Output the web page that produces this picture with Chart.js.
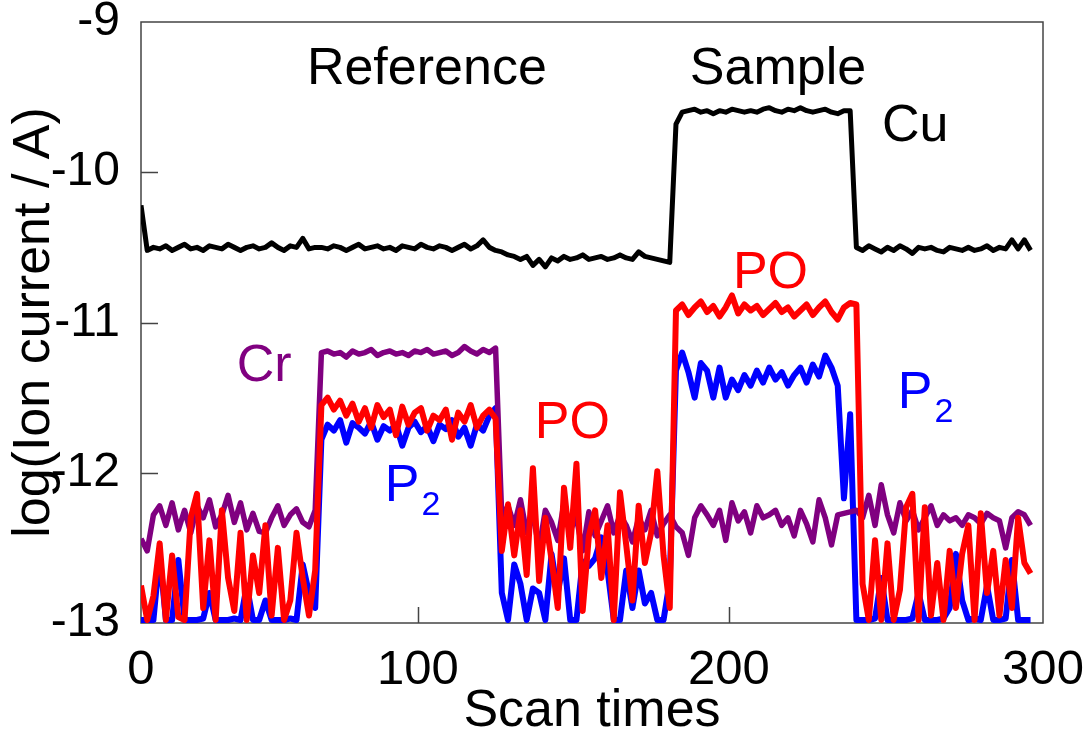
<!DOCTYPE html>
<html>
<head>
<meta charset="utf-8">
<title>Ion current vs scan times</title>
<script src="https://cdn.jsdelivr.net/npm/chart.js@4.4.0/dist/chart.umd.min.js"></script>
<style>
  html, body { margin: 0; padding: 0; background: #fff; }
  canvas { display: block; }
</style>
</head>
<body>
<canvas id="ionChart" width="1092" height="738"></canvas>
<script>
// Scan numbers (every second scan)
const scans = [
    11, 13, 15, 17, 19, 21, 23, 25, 27, 29,
    31, 33, 35, 37, 39, 41, 43, 45, 47, 49,
    51, 53, 55, 57, 59, 61, 63, 65, 67, 69,
    71, 73, 75, 77, 79, 81, 83, 85, 87, 89,
    91, 93, 95, 97, 99, 101, 103, 105, 107, 109,
    111, 113, 115, 117, 119, 121, 123, 125, 127, 129,
    131, 133, 135, 137, 139, 141, 143, 145, 147, 149,
    151, 153, 155, 157, 159, 161, 163, 165, 167, 169,
    171, 173, 175, 177, 179, 181, 183, 185, 187, 189,
    191, 193, 195, 197, 199, 201, 203, 205, 207, 209,
    211, 213, 215, 217, 219, 221, 223, 225, 227, 229,
    231, 233, 235, 237, 239, 241, 243, 245, 247, 249,
    251, 253, 255, 257, 259, 261, 263, 265, 267, 269,
    271, 273, 275, 277, 279, 281, 283, 285, 287, 289,
    291, 293, 295, 297
];

// log(ion current / A) per species
const cu = [
    -10.22, -10.52, -10.50, -10.51, -10.49, -10.52, -10.50, -10.48, -10.51, -10.50, -10.52, -10.49, -10.50, -10.51, -10.48,
    -10.50, -10.52, -10.50, -10.49, -10.51, -10.50, -10.47, -10.50, -10.52, -10.49, -10.50, -10.44, -10.51, -10.50,
    -10.50, -10.51, -10.49, -10.50, -10.52, -10.50, -10.48, -10.51, -10.50, -10.49, -10.51, -10.50, -10.52, -10.49, -10.50,
    -10.51, -10.48, -10.50, -10.51, -10.49, -10.50, -10.52, -10.50, -10.48, -10.51, -10.49, -10.45, -10.50, -10.52,
    -10.53, -10.55, -10.56, -10.58, -10.56, -10.62, -10.58, -10.63, -10.57, -10.59, -10.56, -10.58, -10.57, -10.55,
    -10.58, -10.57, -10.56, -10.58, -10.57, -10.55, -10.57, -10.58, -10.53, -10.56, -10.57, -10.58, -10.59, -10.60,
    -9.68, -9.60, -9.59, -9.58, -9.60, -9.59, -9.61, -9.59, -9.60, -9.58, -9.59, -9.60, -9.59, -9.60, -9.58,
    -9.57, -9.59, -9.60, -9.58, -9.59, -9.57, -9.59, -9.60, -9.59, -9.58, -9.60, -9.61, -9.59, -9.59,
    -10.50, -10.52, -10.49, -10.51, -10.53, -10.50, -10.52, -10.49, -10.51, -10.54, -10.50, -10.51, -10.50, -10.52, -10.53,
    -10.50, -10.51, -10.52, -10.50, -10.52, -10.51, -10.49, -10.52, -10.50, -10.51, -10.45, -10.51, -10.45, -10.52
];

const cr = [
    -12.44, -12.52, -12.28, -12.22, -12.35, -12.20, -12.38, -12.25, -12.40, -12.22, -12.30, -12.18, -12.36, -12.28, -12.15,
    -12.33, -12.20, -12.38, -12.27, -12.39, -12.40, -12.30, -12.22, -12.35, -12.28, -12.24, -12.33, -12.36, -12.25,
    -11.20, -11.19, -11.21, -11.20, -11.23, -11.19, -11.21, -11.20, -11.18, -11.22, -11.20, -11.19, -11.21, -11.20, -11.22,
    -11.19, -11.20, -11.18, -11.21, -11.20, -11.19, -11.22, -11.20, -11.16, -11.19, -11.21, -11.18, -11.20, -11.17,
    -12.30, -12.22, -12.35, -12.18, -12.40, -12.28, -12.50, -12.25, -12.33, -12.45, -12.20, -12.38, -12.30, -12.52,
    -12.26, -12.42, -12.32, -12.22, -12.40, -12.28, -12.35, -12.46, -12.30, -12.38, -12.25, -12.42, -12.34, -12.28,
    -12.36, -12.40, -12.55, -12.30, -12.22, -12.28, -12.35, -12.25, -12.45, -12.20, -12.32, -12.26, -12.40, -12.22, -12.30,
    -12.28, -12.25, -12.35, -12.30, -12.42, -12.25, -12.34, -12.46, -12.18, -12.30, -12.48, -12.28, -12.27, -12.26,
    -12.25, -12.30, -12.15, -12.35, -12.08, -12.28, -12.40, -12.20, -12.32, -12.25, -12.38, -12.30, -12.22, -12.35, -12.28,
    -12.32, -12.30, -12.35, -12.28, -12.30, -12.34, -12.27, -12.30, -12.32, -12.50, -12.30, -12.26, -12.28, -12.35
];

const po = [
    -12.75, -12.98, -12.82, -12.47, -12.98, -12.55, -12.96, -12.98, -12.30, -12.14, -12.90, -12.45, -12.98, -12.25, -12.70,
    -12.92, -12.40, -12.98, -12.55, -12.80, -12.35, -12.95, -12.50, -12.98, -12.85, -12.40, -12.70, -12.95, -12.65,
    -11.55, -11.50, -11.58, -11.52, -11.62, -11.54, -11.66, -11.57, -11.70, -11.55, -11.63, -11.58, -11.75, -11.56, -11.68,
    -11.60, -11.57, -11.72, -11.62, -11.65, -11.58, -11.78, -11.60, -11.66, -11.55, -11.70, -11.62, -11.58, -11.64,
    -12.52, -12.21, -12.55, -12.25, -12.68, -11.97, -12.72, -12.30, -12.58, -12.90, -12.10, -12.50, -11.94, -12.92,
    -12.42, -12.25, -12.70, -12.35, -12.98, -12.13, -12.48, -12.85, -12.22, -12.60, -12.40, -11.99, -12.55, -12.90,
    -10.92, -10.88, -10.95, -10.90, -10.86, -10.93, -10.89, -10.96, -10.90, -10.82, -10.94, -10.88, -10.92, -10.89, -10.95,
    -10.91, -10.87, -10.93, -10.90, -10.96, -10.92, -10.88, -10.95, -10.90, -10.86, -10.93, -10.98, -10.90, -10.87,
    -10.88, -12.74, -12.98, -12.45, -12.98, -12.47, -12.98, -12.78, -12.23, -12.14, -12.98, -12.23, -12.95, -12.60, -12.98,
    -12.52, -12.90, -12.54, -12.35, -12.98, -12.27, -12.80, -12.52, -12.95, -12.58, -12.90, -12.30, -12.60, -12.67
];

const p2 = [
    -12.98, -12.98, -12.98, -12.54, -12.98, -12.98, -12.58, -12.98, -12.98, -12.98, -12.97, -12.80, -12.98, -12.98, -12.98,
    -12.97, -12.98, -12.75, -12.98, -12.98, -12.85, -12.98, -12.98, -12.98, -12.97, -12.98, -12.61, -12.80, -12.90,
    -11.78, -11.68, -11.72, -11.65, -11.80, -11.67, -11.70, -11.74, -11.66, -11.78, -11.69, -11.72, -11.68, -11.82, -11.70,
    -11.66, -11.73, -11.69, -11.79, -11.68, -11.71, -11.65, -11.76, -11.70, -11.82, -11.68, -11.72, -11.62, -11.57,
    -12.80, -12.98, -12.61, -12.74, -12.98, -12.77, -12.80, -12.98, -12.54, -12.80, -12.57, -12.98, -12.98, -12.59,
    -12.62, -12.57, -12.43, -12.65, -12.98, -12.98, -12.65, -12.90, -12.65, -12.87, -12.80, -12.98, -12.98, -12.72,
    -11.32, -11.20, -11.33, -11.50, -11.27, -11.32, -11.50, -11.30, -11.50, -11.38, -11.45, -11.35, -11.42, -11.32, -11.40,
    -11.30, -11.38, -11.33, -11.42, -11.35, -11.30, -11.40, -11.28, -11.36, -11.22, -11.30, -11.42, -12.17, -11.61,
    -12.98, -12.98, -12.98, -12.97, -12.70, -12.98, -12.98, -12.98, -12.98, -12.97, -12.80, -12.98, -12.98, -12.98, -12.97,
    -12.90, -12.54, -12.85, -12.98, -12.97, -12.98, -12.75, -12.98, -12.98, -12.97, -12.58, -12.98, -12.98, -12.98
];

// Axis ticks as printed on the figure
const xTickValues = [11, 100, 200, 301];
const xTickLabels = ['0', '100', '200', '300'];
const yTickValues = [-13, -12, -11, -10, -9];

// Text labels placed in data coordinates
const noteTexts = ['Reference', 'Sample', 'Cu', 'PO', 'Cr', 'PO', 'P', 'P'];
const noteX = [102.9, 215.8, 249.2, 201.3, 41.8, 137.6, 89.4, 254.3];
const noteY = [-9.41, -9.41, -9.79, -10.77, -11.39, -11.77, -12.19, -11.57];
const noteSub = ['', '', '', '', '', '', '2', '2'];

const FONT = "'Liberation Sans', Arial, Helvetica, sans-serif";
const toPoints = (values) => scans.map((x, i) => ({ x, y: values[i] }));

// Frame box and inward tick marks
const framePlugin = {
    id: 'frame',
    beforeDatasetsDraw(chart) {
        const { ctx, chartArea: a, scales: { x, y } } = chart;
        ctx.save();
        ctx.strokeStyle = '#444';
        ctx.lineWidth = 1.5;
        ctx.beginPath();
        xTickValues.forEach(v => {
            if (v <= x.min || v >= x.max) return;
            const px = Math.round(x.getPixelForValue(v)) + 0.5;
            ctx.moveTo(px, a.bottom);
            ctx.lineTo(px, a.bottom - 16);
        });
        yTickValues.forEach(v => {
            if (v <= y.min || v >= y.max) return;
            const py = Math.round(y.getPixelForValue(v)) + 0.5;
            ctx.moveTo(a.left, py);
            ctx.lineTo(a.left + 17, py);
        });
        ctx.stroke();
        ctx.strokeRect(a.left, a.top, a.right - a.left, a.bottom - a.top);
        ctx.restore();
    }
};

// Species / region labels
const notesPlugin = {
    id: 'notes',
    afterDatasetsDraw(chart) {
        const { ctx, scales: { x, y } } = chart;
        const colors = ['#000', '#000', '#000', '#ff0000', '#800080', '#ff0000', '#0000ff', '#0000ff'];
        const aligns = ['center', 'center', 'left', 'left', 'left', 'left', 'left', 'left'];
        ctx.save();
        ctx.textBaseline = 'alphabetic';
        noteTexts.forEach((text, i) => {
            const px = x.getPixelForValue(noteX[i]);
            const py = y.getPixelForValue(noteY[i]);
            ctx.fillStyle = colors[i];
            ctx.textAlign = aligns[i];
            ctx.font = `52px ${FONT}`;
            ctx.fillText(text, px, py);
            if (noteSub[i]) {
                const w = ctx.measureText(text).width;
                ctx.font = `34px ${FONT}`;
                ctx.textAlign = 'left';
                ctx.fillText(noteSub[i], px + w + 2, py + 14);
            }
        });
        ctx.restore();
    }
};

function renderChart() {
    const ctx = document.getElementById('ionChart').getContext('2d');
    const line = (label, values, color, width) => ({
        label,
        data: toPoints(values),
        borderColor: color,
        backgroundColor: color,
        borderWidth: width,
        pointRadius: 0,
        tension: 0,
        borderJoinStyle: 'round',
        fill: false
    });

    return new Chart(ctx, {
        type: 'line',
        data: {
            datasets: [
                line('Cu', cu, '#000000', 5),
                line('PO', po, '#ff0000', 6),
                line('Cr', cr, '#800080', 5.5),
                line('P2', p2, '#0000ff', 6)
            ]
        },
        options: {
            responsive: false,
            animation: false,
            layout: { padding: { top: 22, right: 49, bottom: 0, left: 0 } },
            plugins: {
                legend: { display: false },
                tooltip: { enabled: false }
            },
            scales: {
                x: {
                    type: 'linear',
                    min: 11,
                    max: 301,
                    grid: { display: false },
                    border: { display: false },
                    afterBuildTicks: (scale) => {
                        scale.ticks = xTickValues.map(value => ({ value }));
                    },
                    afterFit: (scale) => {
                        scale.height = 115;
                        scale.paddingLeft = 0;
                        scale.paddingRight = 0;
                    },
                    ticks: {
                        autoSkip: false,
                        maxRotation: 0,
                        padding: 15,
                        color: '#000',
                        font: { family: FONT, size: 49, lineHeight: 1 },
                        callback: (value, index) => xTickLabels[index]
                    },
                    title: {
                        display: true,
                        text: 'Scan times',
                        color: '#000',
                        padding: { top: 0, bottom: 0 },
                        font: { family: FONT, size: 52, lineHeight: 1 }
                    }
                },
                y: {
                    min: -13,
                    max: -9,
                    grid: { display: false },
                    border: { display: false },
                    afterBuildTicks: (scale) => {
                        scale.ticks = yTickValues.map(value => ({ value }));
                    },
                    afterFit: (scale) => {
                        scale.width = 141;
                        scale.paddingTop = 0;
                        scale.paddingBottom = 0;
                    },
                    ticks: {
                        padding: 13,
                        color: '#000',
                        font: { family: FONT, size: 48, lineHeight: 1 }
                    },
                    title: {
                        display: true,
                        text: 'log(Ion current / A)',
                        color: '#000',
                        padding: { top: 9, bottom: 0 },
                        font: { family: FONT, size: 52, lineHeight: 1 }
                    }
                }
            }
        },
        plugins: [framePlugin, notesPlugin]
    });
}

renderChart();
</script>
</body>
</html>
